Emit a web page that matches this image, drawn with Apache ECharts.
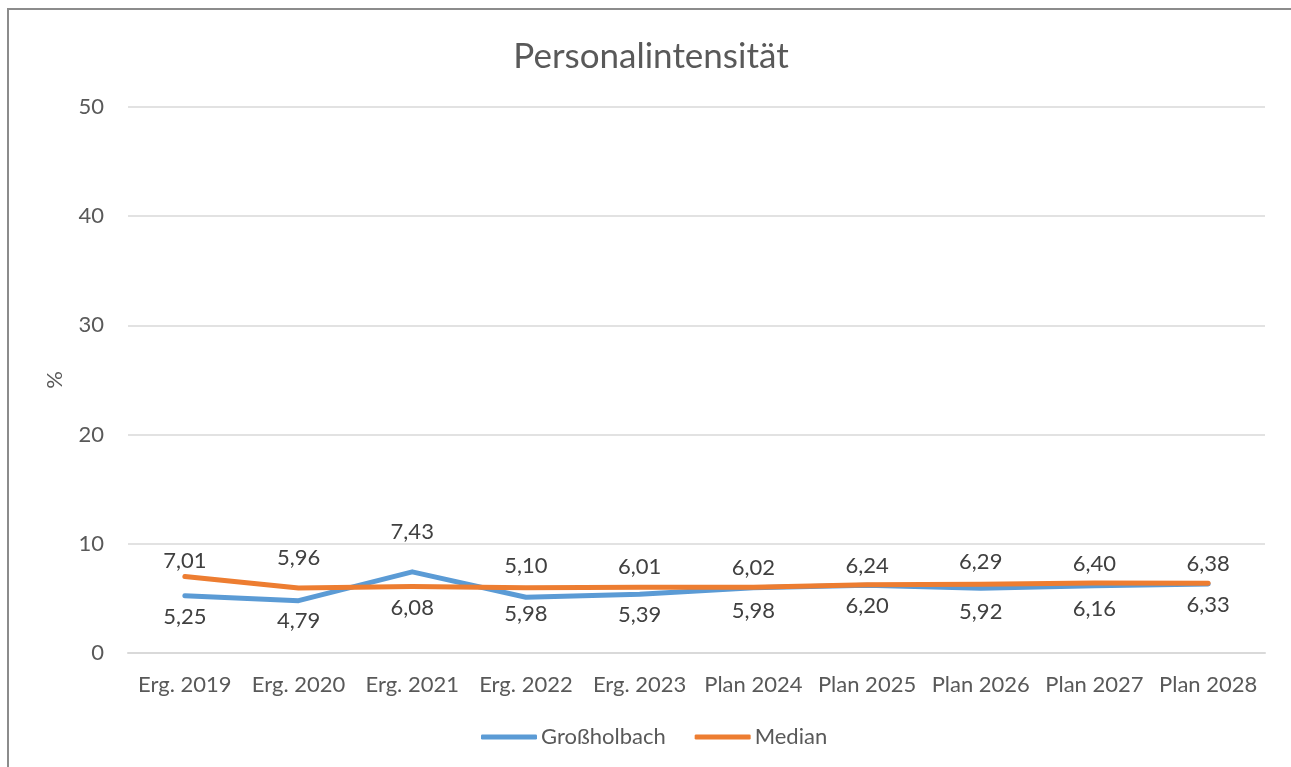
<!DOCTYPE html>
<html>
<head>
<meta charset="utf-8">
<script src="https://cdn.jsdelivr.net/npm/echarts@6/dist/echarts.min.js"></script>
<style>
html,body{margin:0;padding:0;background:#fff;}
#frame{position:absolute;left:7px;top:8px;width:1290px;height:770px;border:2px solid #8c8c8c;box-sizing:border-box;}
#chart{position:absolute;left:0;top:0;width:1291px;height:767px;}
</style>
</head>
<body>
<div id="frame"></div>
<div id="chart"></div>
<script>
const categories = ['Erg. 2019','Erg. 2020','Erg. 2021','Erg. 2022','Erg. 2023','Plan 2024','Plan 2025','Plan 2026','Plan 2027','Plan 2028'];
const grossholbach = [5.25, 4.79, 7.43, 5.10, 5.39, 5.98, 6.20, 5.92, 6.16, 6.33];
const median = [7.01, 5.96, 6.08, 5.98, 6.01, 6.02, 6.24, 6.29, 6.40, 6.38];
// vertical label offsets (px) relative to each point, as placed in the original
const blueLabelDy = [21, 20, -40, -31, 21, 23, 21, 24, 23, 21];
const orangeLabelDy = [-16, -30, 21, 26, -20, -19, -19, -22, -19, -19];
const yTicks = [0, 10, 20, 30, 40, 50];

const font = 'Lato, "Open Sans", sans-serif';
const fmt = v => v.toFixed(2).replace('.', ',');

function mk(values, dy) {
  return values.map((v, i) => ({
    value: v,
    label: { position: 'inside', offset: [0, dy[i]] }
  }));
}

const chart = echarts.init(document.getElementById('chart'));
chart.setOption({
  animation: false,
  title: {
    text: 'Personalintensität',
    left: 646, top: 34, textAlign: 'center',
    textStyle: { fontFamily: font, fontSize: 35, fontWeight: 'normal', color: '#595959' }
  },
  grid: { left: 128, right: 26, top: 107, bottom: 114 },
  legend: {
    bottom: 19, left: 481, itemWidth: 56, itemHeight: 5, itemGap: 29, padding: 0,
    icon: 'roundRect',
    textStyle: { fontFamily: font, fontSize: 22, color: '#595959', padding: [0, 0, 0, -1] },
    data: ['Großholbach', 'Median']
  },
  xAxis: {
    type: 'category', data: categories, boundaryGap: true,
    axisLine: { lineStyle: { color: '#d9d9d9', width: 2 } },
    axisTick: { show: false },
    axisLabel: { fontFamily: font, fontSize: 22, color: '#595959', margin: 21, interval: 0 }
  },
  yAxis: {
    type: 'value', min: 0, max: 50, interval: 10,
    name: '%', nameLocation: 'middle', nameGap: 62, nameRotate: 90,
    nameTextStyle: { fontFamily: font, fontSize: 22, color: '#595959' },
    axisLine: { show: false }, axisTick: { show: false },
    axisLabel: { fontFamily: font, fontSize: 22, color: '#595959', margin: 24 },
    splitLine: { lineStyle: { color: '#d9d9d9', width: 1.5 } }
  },
  series: [
    {
      name: 'Großholbach', type: 'line', data: mk(grossholbach, blueLabelDy),
      color: '#5B9BD5', showSymbol: true, symbol: 'circle', symbolSize: 0,
      lineStyle: { width: 5, color: '#5B9BD5', cap: 'round', join: 'round' },
      label: { show: true, formatter: p => fmt(p.value), fontFamily: font, fontSize: 22, color: '#404040' },
      z: 2
    },
    {
      name: 'Median', type: 'line', data: mk(median, orangeLabelDy),
      color: '#ED7D31', showSymbol: true, symbol: 'circle', symbolSize: 0,
      lineStyle: { width: 5, color: '#ED7D31', cap: 'round', join: 'round' },
      label: { show: true, formatter: p => fmt(p.value), fontFamily: font, fontSize: 22, color: '#404040' },
      z: 3
    }
  ]
});
</script>
</body>
</html>
